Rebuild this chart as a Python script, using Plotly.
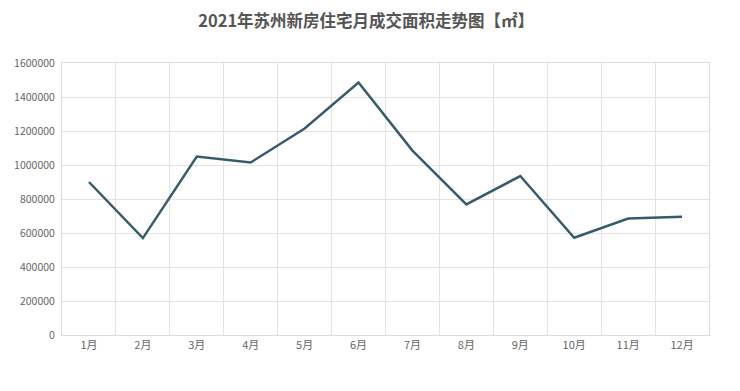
import plotly.graph_objects as go

months = ["1月", "2月", "3月", "4月", "5月", "6月", "7月", "8月", "9月", "10月", "11月", "12月"]
area = [900000, 570000, 1050000, 1015000, 1215000, 1485000, 1085000, 768000, 935000, 572000, 685000, 696000]
y_ticks = [0, 200000, 400000, 600000, 800000, 1000000, 1200000, 1400000, 1600000]
title_text = "2021年苏州新房住宅月成交面积走势图【㎡】"

fig = go.Figure()
fig.add_trace(go.Scatter(
    x=months, y=area, mode="lines",
    line=dict(color="#385b6b", width=2.5),
    hoverinfo="x+y", showlegend=False,
))

font_family = "Noto Sans CJK SC, Noto Sans, sans-serif"
fig.update_layout(
    width=740, height=391,
    margin=dict(l=54, r=39, t=55, b=64),
    paper_bgcolor="white", plot_bgcolor="white",
    title=dict(text="<b>" + title_text + "</b>", x=0.484, xanchor="center", y=0.965, yanchor="middle",
               font=dict(family=font_family, size=16.5, color="#555555")),
    font=dict(family=font_family, size=11, color="#666666"),
)
fig.update_xaxes(
    type="category", tickson="boundaries", showgrid=True, gridcolor="#e3e3e3", gridwidth=1,
    showline=True, linecolor="#dcdcdc", mirror=True, ticks="", range=[-0.5, 11.5],
    tickfont=dict(size=11, color="#666666"), automargin=False,
)
fig.update_yaxes(
    range=[0, 1600000], tickvals=y_ticks, ticktext=[str(v) for v in y_ticks],
    showgrid=True, gridcolor="#e3e3e3", gridwidth=1, zeroline=False,
    showline=True, linecolor="#dcdcdc", mirror=True, ticks="", ticklabelstandoff=4,
    tickfont=dict(size=10.5, color="#666666"), automargin=False,
)
fig.write_html("out.html")
